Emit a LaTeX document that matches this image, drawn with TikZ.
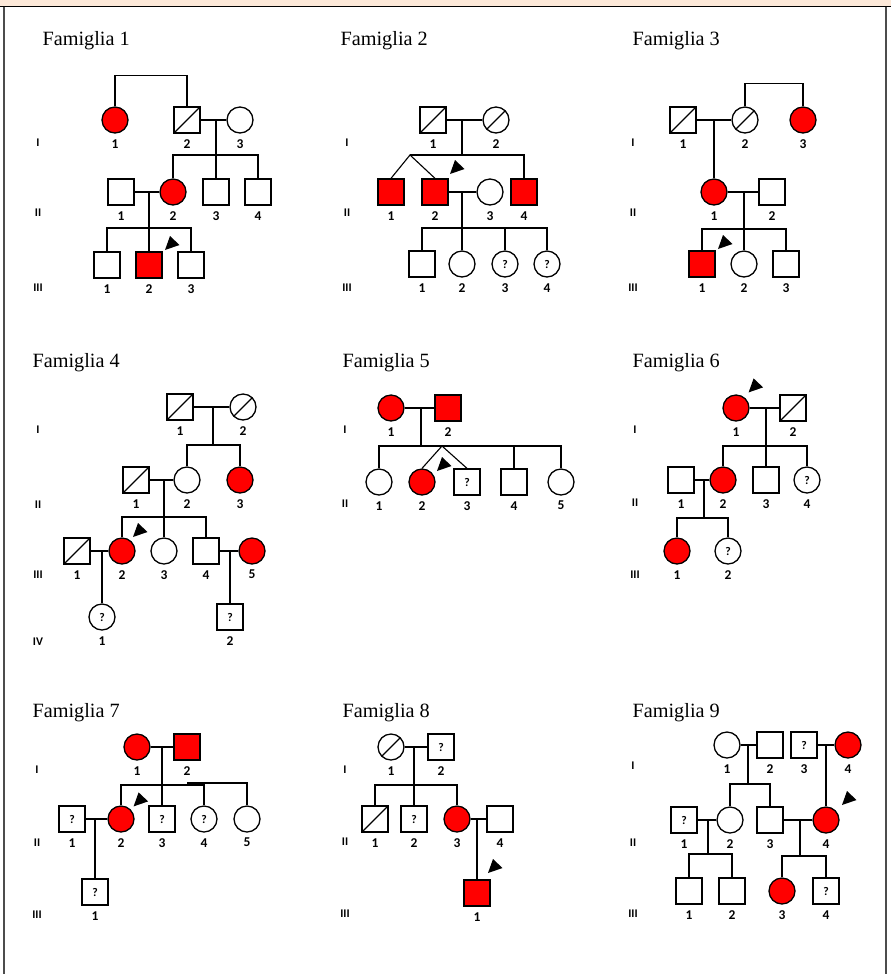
\documentclass[tikz,border=0pt]{standalone}
\usepackage{fontspec}
\setmainfont{Liberation Serif}
\newfontfamily\numfont{Carlito}
\definecolor{peach}{HTML}{FDE9D9}
\definecolor{affred}{HTML}{FF0000}
\newcommand{\proband}[3]{\fill ([shift={(#2,#3)}]#1.center) -- ++(5,-14) -- ++(9.5,9) -- cycle;}
\begin{document}
\begin{tikzpicture}[
    x=0.03cm, y=-0.03cm, line width=0.95pt,
    person/.style={draw, line width=1.1pt, minimum size=0.78cm, inner sep=0pt, fill=white,
        font=\numfont\bfseries\fontsize{10}{10}\selectfont},
    male/.style={person, rectangle},
    female/.style={person, circle},
    affected/.style={fill=affred},
    deceased/.style={path picture={\draw[line width=0.95pt] (path picture bounding box.south west) -- (path picture bounding box.north east);}},
    num/.style={font=\numfont\bfseries\fontsize{11.5}{12}\selectfont, inner sep=0pt, anchor=center},
    idn/.style={label={[num, label distance=0.3cm]below:#1}},
    gen/.style={font=\numfont\bfseries\fontsize{10}{10}\selectfont, inner sep=0pt},
    title/.style={font=\fontsize{17.3}{20}\selectfont, anchor=base west, inner sep=0pt}
]
    \useasboundingbox (0,0) rectangle (891,974);
    % frame
    \fill[peach] (0,0) rectangle (891,6.5);
    \draw[line width=1.1pt] (0,6.5) -- (891,6.5);
    \draw[black!70, line width=1.2pt] (3.8,6.5) -- (3.8,974);
    \draw[black!70, line width=1.2pt] (886,6.5) -- (886,974);

    % Famiglia 1
    \node[title] (f1-title) at (42,45) {Famiglia 1};
    \node[gen] (f1-gI) at (38,143) {I};
    \node[gen] (f1-gII) at (38,213) {II};
    \node[gen] (f1-gIII) at (38,288) {III};
    \node[female, affected, idn=1] (f1-I1) at (115,120) {};
    \node[male, deceased, idn=2] (f1-I2) at (187,120) {};
    \node[female, idn=3] (f1-I3) at (240,120) {};
    \node[male, idn=1] (f1-II1) at (121,192) {};
    \node[female, affected, idn=2] (f1-II2) at (173,192) {};
    \node[male, idn=3] (f1-II3) at (216,192) {};
    \node[male, idn=4] (f1-II4) at (258,192) {};
    \node[male, idn=1] (f1-III1) at (107,265) {};
    \node[male, affected, idn=2] (f1-III2) at (149,265) {};
    \node[male, idn=3] (f1-III3) at (191,265) {};
    \coordinate (f1-a) at (216,155);
    \coordinate (f1-b) at (149,228);
    \draw (f1-I1.north) -- ++(0,-31) -| (f1-I2.north);
    \draw (f1-I2) -- (f1-I3);
    \draw (f1-a |- f1-I2.center) -- (f1-a);
    \draw (f1-II2.north) |- (f1-II4.north |- f1-a) -- (f1-II4.north);
    \draw (f1-II3.north) -- (f1-II3.north |- f1-a);
    \draw (f1-II1) -- (f1-II2);
    \draw (f1-b |- f1-II1.center) -- (f1-b);
    \draw (f1-III1.north) |- (f1-III3.north |- f1-b) -- (f1-III3.north);
    \draw (f1-III2.north) -- (f1-III2.north |- f1-b);
    \proband{f1-III2}{16}{-15}

    % Famiglia 2
    \node[title] (f2-title) at (340,45) {Famiglia 2};
    \node[gen] (f2-gI) at (347,143) {I};
    \node[gen] (f2-gII) at (347,213) {II};
    \node[gen] (f2-gIII) at (347,288) {III};
    \node[male, deceased, idn=1] (f2-I1) at (433,120) {};
    \node[female, deceased, idn=2] (f2-I2) at (496,120) {};
    \node[male, affected, idn=1] (f2-II1) at (391,192) {};
    \node[male, affected, idn=2] (f2-II2) at (435,192) {};
    \node[female, idn=3] (f2-II3) at (490,192) {};
    \node[male, affected, idn=4] (f2-II4) at (524,192) {};
    \node[male, idn=1] (f2-III1) at (422,264) {};
    \node[female, idn=2] (f2-III2) at (462,264) {};
    \node[female, idn=3] (f2-III3) at (505,264) {?};
    \node[female, idn=4] (f2-III4) at (547,264) {?};
    \coordinate (f2-tw) at (410,155);
    \coordinate (f2-a) at (462,155);
    \coordinate (f2-b) at (462,228);
    \draw (f2-I1) -- (f2-I2);
    \draw (f2-a |- f2-I1.center) -- (f2-a);
    \draw (f2-tw) -- (f2-II4.north |- f2-tw) -- (f2-II4.north);
    \draw (f2-II1.north) -- (f2-tw) -- (f2-II2.north);
    \draw (f2-II2) -- (f2-II3);
    \draw (f2-b |- f2-II2.center) -- (f2-b);
    \draw (f2-III1.north) |- (f2-III4.north |- f2-b) -- (f2-III4.north);
    \draw (f2-III2.north) -- (f2-III2.north |- f2-b);
    \draw (f2-III3.north) -- (f2-III3.north |- f2-b);
    \proband{f2-II2}{15}{-18}

    % Famiglia 3
    \node[title] (f3-title) at (632,45) {Famiglia 3};
    \node[gen] (f3-gI) at (633,143) {I};
    \node[gen] (f3-gII) at (633,213) {II};
    \node[gen] (f3-gIII) at (633,288) {III};
    \node[male, deceased, idn=1] (f3-I1) at (683,120) {};
    \node[female, deceased, idn=2] (f3-I2) at (745,120) {};
    \node[female, affected, idn=3] (f3-I3) at (803,120) {};
    \node[female, affected, idn=1] (f3-II1) at (714,192) {};
    \node[male, idn=2] (f3-II2) at (772,192) {};
    \node[male, affected, idn=1] (f3-III1) at (702,264) {};
    \node[female, idn=2] (f3-III2) at (744,264) {};
    \node[male, idn=3] (f3-III3) at (786,264) {};
    \coordinate (f3-b) at (744,229);
    \draw (f3-I2.north) -- ++(0,-23) -| (f3-I3.north);
    \draw (f3-I1) -- (f3-I2);
    \draw (f3-II1.north |- f3-I1.center) -- (f3-II1.north);
    \draw (f3-II1) -- (f3-II2);
    \draw (f3-b |- f3-II1.center) -- (f3-b);
    \draw (f3-III1.north) |- (f3-III3.north |- f3-b) -- (f3-III3.north);
    \draw (f3-III2.north) -- (f3-III2.north |- f3-b);
    \proband{f3-III1}{16}{-15}

    % Famiglia 4
    \node[title] (f4-title) at (32,367) {Famiglia 4};
    \node[gen] (f4-gI) at (38,430) {I};
    \node[gen] (f4-gII) at (38,505) {II};
    \node[gen] (f4-gIII) at (38,575) {III};
    \node[gen] (f4-gIV) at (38,642) {IV};
    \node[male, deceased, idn=1] (f4-I1) at (180,407) {};
    \node[female, deceased, idn=2] (f4-I2) at (243,407) {};
    \node[male, deceased, idn=1] (f4-II1) at (136,480) {};
    \node[female, idn=2] (f4-II2) at (187,480) {};
    \node[female, affected, idn=3] (f4-II3) at (240,480) {};
    \node[male, deceased, idn=1] (f4-III1) at (77,551) {};
    \node[female, affected, idn=2] (f4-III2) at (122,551) {};
    \node[female, idn=3] (f4-III3) at (164,551) {};
    \node[male, idn=4] (f4-III4) at (206,551) {};
    \node[female, affected, idn=5] (f4-III5) at (252,551) {};
    \node[female, idn=1] (f4-IV1) at (102,617) {?};
    \node[male, idn=2] (f4-IV2) at (230,617) {?};
    \coordinate (f4-a) at (213,445);
    \coordinate (f4-b) at (164,517);
    \draw (f4-I1) -- (f4-I2);
    \draw (f4-a |- f4-I1.center) -- (f4-a);
    \draw (f4-II2.north) |- (f4-II3.north |- f4-a) -- (f4-II3.north);
    \draw (f4-II1) -- (f4-II2);
    \draw (f4-b |- f4-II1.center) -- (f4-b);
    \draw (f4-III2.north) |- (f4-III4.north |- f4-b) -- (f4-III4.north);
    \draw (f4-III3.north) -- (f4-III3.north |- f4-b);
    \draw (f4-III1) -- (f4-III2);
    \draw (f4-IV1.north |- f4-III1.center) -- (f4-IV1.north);
    \draw (f4-III4) -- (f4-III5);
    \draw (f4-IV2.north |- f4-III4.center) -- (f4-IV2.north);
    \proband{f4-III2}{11}{-14}

    % Famiglia 5
    \node[title] (f5-title) at (342,367) {Famiglia 5};
    \node[gen] (f5-gI) at (345,430) {I};
    \node[gen] (f5-gII) at (345,504) {II};
    \node[female, affected, idn=1] (f5-I1) at (391,408) {};
    \node[male, affected, idn=2] (f5-I2) at (448,408) {};
    \node[female, idn=1] (f5-II1) at (379,482) {};
    \node[female, affected, idn=2] (f5-II2) at (422,482) {};
    \node[male, idn=3] (f5-II3) at (467,482) {?};
    \node[male, idn=4] (f5-II4) at (514,482) {};
    \node[female, idn=5] (f5-II5) at (561,482) {};
    \coordinate (f5-a) at (421,446);
    \coordinate (f5-tw) at (442,446);
    \draw (f5-I1) -- (f5-I2);
    \draw (f5-a |- f5-I1.center) -- (f5-a);
    \draw (f5-II1.north) |- (f5-II5.north |- f5-a) -- (f5-II5.north);
    \draw (f5-II2.north) -- (f5-tw) -- (f5-II3.north);
    \draw (f5-II4.north) -- (f5-II4.north |- f5-a);
    \proband{f5-II2}{15}{-11}

    % Famiglia 6
    \node[title] (f6-title) at (632,367) {Famiglia 6};
    \node[gen] (f6-gI) at (635,430) {I};
    \node[gen] (f6-gII) at (635,503) {II};
    \node[gen] (f6-gIII) at (635,575) {III};
    \node[female, affected, idn=1] (f6-I1) at (736,408) {};
    \node[male, deceased, idn=2] (f6-I2) at (793,408) {};
    \node[male, idn=1] (f6-II1) at (681,480) {};
    \node[female, affected, idn=2] (f6-II2) at (723,480) {};
    \node[male, idn=3] (f6-II3) at (766,480) {};
    \node[female, idn=4] (f6-II4) at (807,480) {?};
    \node[female, affected, idn=1] (f6-III1) at (677,551) {};
    \node[female, idn=2] (f6-III2) at (728,551) {?};
    \coordinate (f6-a) at (766,446);
    \coordinate (f6-b) at (704,518);
    \draw (f6-I1) -- (f6-I2);
    \draw (f6-a |- f6-I1.center) -- (f6-a);
    \draw (f6-II2.north) |- (f6-II4.north |- f6-a) -- (f6-II4.north);
    \draw (f6-II3.north) -- (f6-II3.north |- f6-a);
    \draw (f6-II1) -- (f6-II2);
    \draw (f6-b |- f6-II1.center) -- (f6-b);
    \draw (f6-III1.north) |- (f6-III2.north |- f6-b) -- (f6-III2.north);
    \proband{f6-I1}{12.6}{-15.6}

    % Famiglia 7
    \node[title] (f7-title) at (32,717) {Famiglia 7};
    \node[gen] (f7-gI) at (37,770) {I};
    \node[gen] (f7-gII) at (37,843) {II};
    \node[gen] (f7-gIII) at (37,915) {III};
    \node[female, affected, idn=1] (f7-I1) at (137,747) {};
    \node[male, affected, idn=2] (f7-I2) at (187,747) {};
    \node[male, idn=1] (f7-II1) at (72,819) {?};
    \node[female, affected, idn=2] (f7-II2) at (121,819) {};
    \node[male, idn=3] (f7-II3) at (162,819) {?};
    \node[female, idn=4] (f7-II4) at (204,819) {?};
    \node[female, idn=5] (f7-II5) at (247,819) {};
    \node[male, idn=1] (f7-III1) at (95,892) {?};
    \coordinate (f7-a) at (162,785);
    \coordinate (f7-c) at (187,783);
    \draw (f7-I1) -- (f7-I2);
    \draw (f7-II3.north |- f7-I1.center) -- (f7-II3.north);
    \draw (f7-II2.north) |- (f7-II4.north |- f7-a) -- (f7-II4.north);
    \draw (f7-c) -| (f7-II5.north);
    \draw (f7-II1) -- (f7-II2);
    \draw (f7-III1.north |- f7-II1.center) -- (f7-III1.north);
    \proband{f7-II2}{12.6}{-12.6}

    % Famiglia 8
    \node[title] (f8-title) at (342,717) {Famiglia 8};
    \node[gen] (f8-gI) at (345,770) {I};
    \node[gen] (f8-gII) at (345,842) {II};
    \node[gen] (f8-gIII) at (345,914) {III};
    \node[female, deceased, idn=1] (f8-I1) at (391,747) {};
    \node[male, idn=2] (f8-I2) at (441,747) {?};
    \node[male, deceased, idn=1] (f8-II1) at (375,819) {};
    \node[male, idn=2] (f8-II2) at (414,819) {?};
    \node[female, affected, idn=3] (f8-II3) at (457,819) {};
    \node[male, idn=4] (f8-II4) at (500,819) {};
    \node[male, affected, idn=1] (f8-III1) at (477,893) {};
    \coordinate (f8-a) at (414,785);
    \draw (f8-I1) -- (f8-I2);
    \draw (f8-a |- f8-I1.center) -- (f8-a);
    \draw (f8-II1.north) |- (f8-II3.north |- f8-a) -- (f8-II3.north);
    \draw (f8-II2.north) -- (f8-II2.north |- f8-a);
    \draw (f8-II3) -- (f8-II4);
    \draw (f8-III1.north |- f8-II3.center) -- (f8-III1.north);
    \proband{f8-III1}{11}{-20}

    % Famiglia 9
    \node[title] (f9-title) at (632,717) {Famiglia 9};
    \node[gen] (f9-gI) at (633,766) {I};
    \node[gen] (f9-gII) at (633,843) {II};
    \node[gen] (f9-gIII) at (633,914) {III};
    \node[female, idn=1] (f9-I1) at (727,745) {};
    \node[male, idn=2] (f9-I2) at (770,745) {};
    \node[male, idn=3] (f9-I3) at (804,745) {?};
    \node[female, affected, idn=4] (f9-I4) at (848,745) {};
    \node[male, idn=1] (f9-II1) at (684,820) {?};
    \node[female, idn=2] (f9-II2) at (730,820) {};
    \node[male, idn=3] (f9-II3) at (770,820) {};
    \node[female, affected, idn=4] (f9-II4) at (826,820) {};
    \node[male, idn=1] (f9-III1) at (689,891) {};
    \node[male, idn=2] (f9-III2) at (732,891) {};
    \node[female, affected, idn=3] (f9-III3) at (782,891) {};
    \node[male, idn=4] (f9-III4) at (826,891) {?};
    \coordinate (f9-a) at (748,784);
    \coordinate (f9-b) at (708,854);
    \coordinate (f9-d) at (800,856);
    \draw (f9-I1) -- (f9-I2);
    \draw (f9-a |- f9-I1.center) -- (f9-a);
    \draw (f9-II2.north) |- (f9-II3.north |- f9-a) -- (f9-II3.north);
    \draw (f9-I3) -- (f9-I4);
    \draw (f9-II4.north |- f9-I3.center) -- (f9-II4.north);
    \draw (f9-II1) -- (f9-II2);
    \draw (f9-b |- f9-II1.center) -- (f9-b);
    \draw (f9-III1.north) |- (f9-III2.north |- f9-b) -- (f9-III2.north);
    \draw (f9-II3) -- (f9-II4);
    \draw (f9-d |- f9-II3.center) -- (f9-d);
    \draw (f9-III3.north) |- (f9-III4.north |- f9-d) -- (f9-III4.north);
    \proband{f9-II4}{16}{-15}
\end{tikzpicture}
\end{document}
